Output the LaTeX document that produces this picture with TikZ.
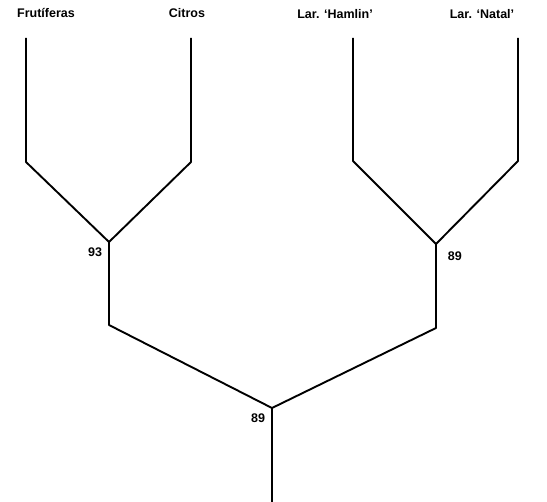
\documentclass[tikz,border=0pt]{standalone}
\usepackage{fontspec}
\setmainfont{Liberation Sans}
\usepackage{tikz}
\usetikzlibrary{calc}
\newcommand{\tx}[1]{\textbf{#1}}

\begin{document}
\begin{tikzpicture}[x=1pt,y=-1pt,line width=1.9pt,line join=round,
    every node/.style={inner sep=0pt,font=\fontsize{12.5}{14}\selectfont}]
    \useasboundingbox (0,0) rectangle (547,502);
    % leaf names
    \node (N1) at (46,13) {\tx{Frutíferas}};
    \node (N2) at (187,13) {\tx{Citros}};
    \node (N3) at (335,14) {\tx{Lar. ‘Hamlin’}};
    \node (N4) at (482,14) {\tx{Lar. ‘Natal’}};
    % leaves
    \coordinate (T1) at (26,38);
    \coordinate (T2) at (191,38);
    \coordinate (T3) at (353,38);
    \coordinate (T4) at (518,38);
    \coordinate (B1) at (26,162);
    \coordinate (B2) at (191,162);
    \coordinate (B3) at (353,161);
    \coordinate (B4) at (518,161);
    % joins
    \coordinate (J1) at (109,242);
    \coordinate (J2) at (436,244);
    \coordinate (K1) at (109,325);
    \coordinate (K2) at (436,328);
    \coordinate (R) at (272,408);
    \coordinate (S) at (272,502);
    \draw (T1) -- (B1) -- (J1) -- (B2) -- (T2);
    \draw (T3) -- (B3) -- (J2) -- (B4) -- (T4);
    \draw (J1) -- (K1) -- (R) -- (K2) -- (J2);
    \draw (R) -- (S);
    % support values
    \node[anchor=east] (V1) at ($(J1)+(-6,10)$) {\tx{93}};
    \node[anchor=west] (V2) at ($(J2)+(11,12)$) {\tx{89}};
    \node[anchor=east] (V3) at ($(R)+(-6,10)$) {\tx{89}};
\end{tikzpicture}
\end{document}
